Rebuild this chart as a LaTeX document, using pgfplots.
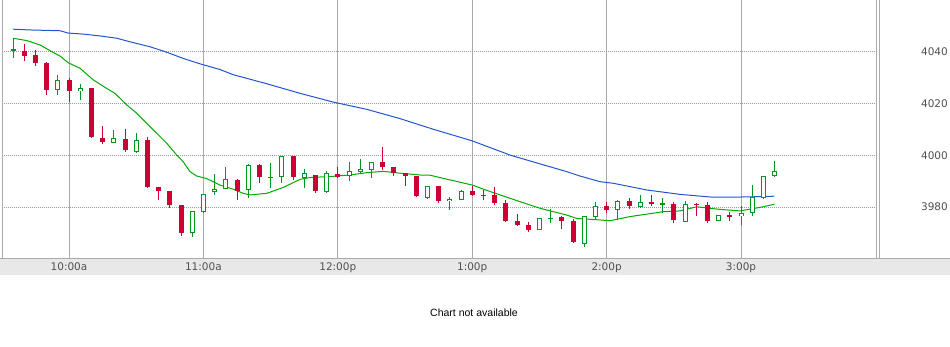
\documentclass[border=0pt]{standalone}
\usepackage{fontspec}
\setmainfont{Liberation Sans}
\newfontfamily\tickfont{DejaVu Sans}
\usepackage{pgfplots}
\pgfplotsset{compat=1.18}
\usepackage{pgfplotstable}
\definecolor{cred}{RGB}{204,0,51}
\definecolor{cgreen}{RGB}{0,150,30}
\definecolor{magreen}{RGB}{0,170,0}
\definecolor{mablue}{RGB}{34,85,204}
\definecolor{gridgray}{RGB}{170,170,170}
\definecolor{dotgray}{RGB}{155,155,155}
\definecolor{stripgray}{RGB}{232,232,232}
\definecolor{labgray}{RGB}{80,80,80}

\pgfplotstableread{
t o h l c
10 4040.4 4043.1 4036.6 4038.6
15 4038.8 4040.8 4034.7 4035.9
20 4035.9 4036.1 4023.5 4025.3
30 4029.0 4029.8 4020.8 4025.0
40 4026.1 4026.1 4006.8 4007.1
45 4006.7 4011.4 4004.4 4005.3
55 4006.3 4010.2 4001.4 4002.1
65 4005.9 4007.0 3987.5 3987.9
70 3987.6 3987.6 3982.7 3986.3
75 3986.1 3986.1 3979.8 3980.8
80 3980.8 3980.8 3968.8 3970.1
105 3990.3 3990.7 3982.8 3986.3
115 3996.3 3996.7 3989.2 3991.8
130 3999.8 3999.8 3990.5 3991.8
140 3992.4 3992.4 3985.6 3986.2
150 3992.8 3995.5 3991.1 3991.8
170 3997.4 4003.2 3994.3 3995.6
175 3995.5 3995.5 3992.1 3993.1
180 3993.2 3993.2 3988.1 3992.1
185 3992.1 3992.1 3984.0 3984.3
195 3988.1 3988.1 3981.7 3982.3
210 3986.2 3988.1 3984.3 3984.7
215 3984.8 3986.6 3982.7 3984.4
220 3984.7 3987.8 3980.9 3981.6
225 3981.6 3982.7 3974.2 3974.6
230 3974.6 3977.3 3972.7 3973.1
235 3973.1 3974.2 3970.3 3971.1
250 3976.2 3976.6 3971.5 3974.6
255 3974.6 3975.4 3966.1 3966.5
270 3980.4 3982.0 3977.8 3978.9
280 3982.3 3983.5 3979.4 3980.4
290 3982.1 3984.7 3980.4 3981.2
300 3981.2 3982.0 3974.0 3975.0
310 3981.3 3981.7 3976.7 3980.9
315 3980.8 3981.8 3973.7 3974.7
325 3976.9 3978.1 3974.7 3976.3
}\redcandles

\pgfplotstableread{
t o h l c
5 4040.4 4045.3 4037.5 4041.0
25 4025.4 4031.1 4023.5 4029.0
35 4024.8 4027.6 4021.4 4025.9
50 4004.7 4009.8 4004.7 4006.7
60 4001.4 4008.5 4001.0 4005.8
85 3970.1 3978.4 3968.5 3978.4
90 3978.2 3984.9 3977.8 3984.9
95 3985.9 3992.8 3984.7 3987.0
100 3987.0 3995.5 3986.9 3990.7
110 3986.5 3996.7 3983.4 3996.2
120 3991.3 3997.0 3987.3 3991.6
125 3991.8 3999.6 3989.4 3999.6
135 3991.4 3994.7 3987.5 3993.1
145 3985.9 3994.0 3985.6 3993.1
155 3991.9 3997.4 3990.2 3993.8
160 3993.7 3998.6 3993.1 3994.6
165 3994.5 3997.3 3991.4 3997.3
190 3983.5 3988.1 3983.1 3988.1
200 3982.2 3983.8 3978.9 3983.0
205 3982.8 3986.6 3982.8 3986.1
240 3971.0 3975.7 3971.0 3975.7
245 3975.5 3979.1 3974.0 3975.9
260 3965.8 3976.4 3964.7 3976.4
265 3976.3 3982.0 3975.0 3980.3
275 3978.7 3982.7 3975.1 3982.2
285 3980.1 3984.7 3979.5 3981.8
295 3981.1 3983.6 3977.8 3981.4
305 3974.1 3982.3 3974.1 3981.1
320 3974.6 3976.8 3974.6 3976.8
330 3976.4 3980.3 3973.2 3977.6
335 3977.6 3988.5 3976.7 3984.0
340 3983.4 3991.9 3983.1 3991.9
345 3991.9 3997.8 3991.5 3993.8
}\greencandles

\begin{document}
\begin{tikzpicture}
\useasboundingbox (0pt,0pt) rectangle (950pt,347pt);
\fill[stripgray] (0pt,72pt) rectangle (950pt,88pt);
\begin{axis}[
  at={(1.8pt,88pt)}, anchor=south west,
  scale only axis, width=875.2pt, height=259pt,
  xmin=0, xmax=390.7, ymin=3959.9, ymax=4060.1,
  axis line style={draw=none},
  xtick={30,90,150,210,270,330},
  xticklabels={10:00a,11:00a,12:00p,1:00p,2:00p,3:00p},
  ytick={3980,4000,4020,4040},
  xmajorgrids, ymajorgrids,
  x grid style={gridgray, line width=1pt},
  y grid style={dotgray, line width=1pt, dash pattern=on 1pt off 1pt},
  major tick length=0pt,
  yticklabel pos=right,
  tick label style={font=\tickfont\fontsize{10.5}{12}\selectfont, text=labgray, inner sep=0pt},
  xticklabel style={anchor=base, yshift=-12pt},
  yticklabel style={anchor=east, xshift=71pt},
  /pgf/number format/assume math mode=true,
  /pgf/number format/set thousands separator={},
  candle/.style={draw=none, no marks, error bars/y dir=both, error bars/y explicit, error bars/error mark=none},
]
% moving averages
\addplot[mablue, line width=1pt] coordinates {
(5.1,4048.8) (13,4048.5) (26,4048.2) (29.7,4047.3) (36.4,4046.9) (43.8,4046.2)
(51.3,4045.3) (58.7,4043.6) (66.2,4042.0) (73.6,4039.9) (81,4037.5) (88.5,4035.4)
(97.4,4033.2) (103.3,4031.2) (118.3,4027.7) (133.1,4024.0) (148,4020.6) (162.9,4017.8)
(177.8,4014.2) (192.6,4010.1) (204.6,4007.0) (210,4005.6) (226.9,4000.1) (237.1,3997.5)
(252.2,3993.7) (258.1,3992.0) (267.1,3989.8) (272.9,3989.2) (287.9,3986.6) (302.8,3984.9)
(317.5,3983.8) (332.5,3983.9) (344.9,3984.2)};
\addplot[magreen, line width=1pt] coordinates {
(5.1,4045.3) (11.1,4044.4) (17.1,4042.7) (21.5,4040.5) (26.0,4038.4) (29.7,4035.8)
(34.9,4033.7) (40.8,4029.2) (46.8,4025.9) (50.5,4024.0) (55.8,4019.5) (60.2,4016.3)
(66.2,4011.1) (73.6,4004.7) (78.1,4000.1) (81.0,3997.5) (84.0,3993.7) (87.0,3992.0)
(91.5,3991.0) (97.4,3988.5) (103.3,3986.9) (107.8,3985.3) (110.8,3984.7) (118.3,3985.3)
(125.7,3987.6) (133.1,3990.7) (137.6,3991.4) (148.0,3991.9) (155.4,3992.4) (162.9,3993.3)
(170.3,3993.8) (177.8,3993.1) (186.7,3992.4) (191.2,3992.3) (200.1,3990.5) (210.0,3988.5)
(215.0,3986.9) (222.4,3984.7) (229.9,3982.5) (240.3,3979.5) (252.2,3976.9) (256.6,3975.6)
(267.1,3975.0) (271.5,3974.7) (280.4,3976.3) (295.3,3978.2) (302.8,3978.5) (310.2,3980.1)
(320.6,3979.1) (329.6,3978.5) (339.9,3980.1) (344.9,3981.1)};
% wicks
\addplot[candle, error bars/error bar style={draw=cred, line width=1pt}]
  table[x=t, y expr={(\thisrow{h}+\thisrow{l})/2}, y error expr={(\thisrow{h}-\thisrow{l})/2}] {\redcandles};
\addplot[candle, error bars/error bar style={draw=cgreen, line width=1pt}]
  table[x=t, y expr={(\thisrow{h}+\thisrow{l})/2}, y error expr={(\thisrow{h}-\thisrow{l})/2}] {\greencandles};
% bodies
\addplot[candle, error bars/error bar style={draw=cred, line width=5pt}]
  table[x=t, y expr={(\thisrow{o}+\thisrow{c})/2}, y error expr={max((\thisrow{o}-\thisrow{c})/2,0.2)}] {\redcandles};
\addplot[candle, error bars/error bar style={draw=cgreen, line width=5pt}]
  table[x=t, y expr={(\thisrow{o}+\thisrow{c})/2}, y error expr={max((\thisrow{c}-\thisrow{o})/2,0.2)}] {\greencandles};
\addplot[candle, error bars/error bar style={draw=white, line width=3pt}]
  table[x=t, y expr={(\thisrow{o}+\thisrow{c})/2}, y error expr={max((\thisrow{c}-\thisrow{o})/2-0.39,0)}] {\greencandles};
\end{axis}
\draw[gridgray, line width=1pt] (0pt,88pt) -- (950pt,88pt);
\draw[gridgray, line width=1pt] (2.3pt,88pt) -- (2.3pt,347pt);
\draw[gridgray, line width=1pt] (876.7pt,88pt) -- (876.7pt,347pt);
\draw[gridgray, line width=1pt] (879.3pt,88pt) -- (879.3pt,347pt);
\node[anchor=base, inner sep=0pt, font=\fontsize{10.5}{12}\selectfont] at (474pt,30.3pt) {Chart not available};
\end{tikzpicture}
\end{document}
